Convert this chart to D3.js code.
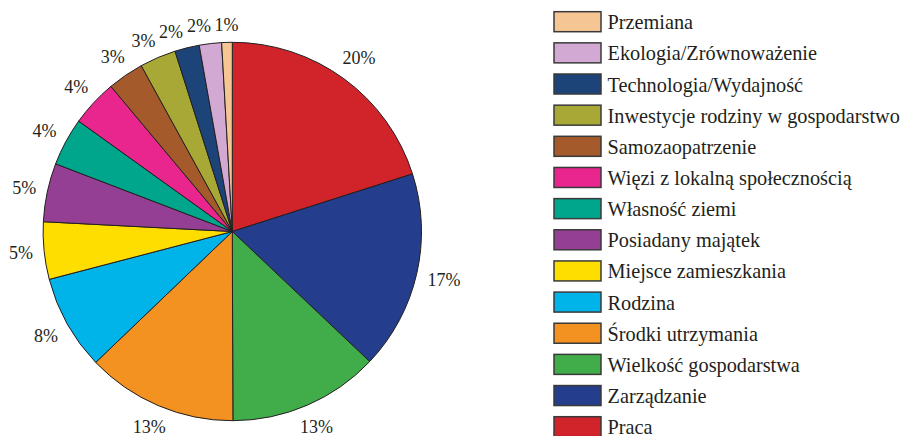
<!DOCTYPE html>
<html>
<head>
<meta charset="utf-8">
<script src="https://cdn.jsdelivr.net/npm/d3@7"></script>
<style>
  body { margin: 0; background: #fff; }
  text { font-family: "Liberation Serif", "Times New Roman", serif; fill: #231f20; }
</style>
</head>
<body>
<svg width="904" height="436"></svg>
<script>
// slices clockwise from 12 o'clock
var categories = ["Praca", "Zarządzanie", "Wielkość gospodarstwa", "Środki utrzymania", "Rodzina",
  "Miejsce zamieszkania", "Posiadany majątek", "Własność ziemi", "Więzi z lokalną społecznością",
  "Samozaopatrzenie", "Inwestycje rodziny w gospodarstwo", "Technologia/Wydajność",
  "Ekologia/Zrównoważenie", "Przemiana"];
var values = [20.1, 17.0, 12.9, 12.9, 8.1, 4.9, 5.0, 4.1, 4.0, 3.1, 3.1, 2.1, 1.9, 0.9];
var labels = ["20%", "17%", "13%", "13%", "8%", "5%", "5%", "4%", "4%", "3%", "3%", "2%", "2%", "1%"];
var colors = ["#d0232a", "#243d8c", "#40ad4a", "#f39220", "#00b4ea", "#fedd00", "#943f94",
  "#00a68c", "#e9258e", "#a55a2c", "#a8a837", "#1d4479", "#d2a9d2", "#f6c594"];

var svg = d3.select("svg");
var cx = 232.3, cy = 231.5, R = 189.2;

var data = categories.map(function(c, i) { return {name: c, value: values[i], label: labels[i], color: colors[i]}; });

var pie = d3.pie().sort(null).value(function(d) { return d.value; });
var arc = d3.arc().innerRadius(0).outerRadius(R);
var arcs = pie(data);

var g = svg.append("g").attr("transform", "translate(" + cx + "," + cy + ")");

g.selectAll("path")
  .data(arcs)
  .enter().append("path")
  .attr("d", arc)
  .attr("fill", function(d) { return d.data.color; })
  .attr("stroke", "#231f20")
  .attr("stroke-width", 1);

// percentage labels just outside the rim
var lab = g.selectAll(".lab")
  .data(arcs)
  .enter().append("text")
  .attr("class", "lab")
  .attr("font-size", "18px")
  .attr("text-anchor", "middle")
  .text(function(d) { return d.data.label; });

var h = 13, pad = 3.5;
var boxes = [];
lab.each(function(d, i) {
  boxes[i] = {w: this.getComputedTextLength(), a: (d.startAngle + d.endAngle) / 2};
});
function place(b) {
  var s = Math.sin(b.a), c = Math.cos(b.a);
  var r = R + 10.5 + Math.abs(s) * b.w / 2 + Math.abs(c) * h / 2;
  b.x = r * s;
  b.y = -r * c;
}
boxes.forEach(place);
function hits(p, q) {
  return Math.abs(p.x - q.x) < (p.w + q.w) / 2 + pad && Math.abs(p.y - q.y) < h + 2;
}
// push crowded labels near the top counterclockwise
for (var i = boxes.length - 2; i >= 0; i--) {
  var k = 0;
  while (hits(boxes[i], boxes[i + 1]) && k < 100) {
    boxes[i].a -= 0.005;
    place(boxes[i]);
    k++;
  }
}
lab.attr("x", function(d, i) { return boxes[i].x; })
  .attr("y", function(d, i) { return boxes[i].y + 6.3; });

// legend, reversed order
var legendY = d3.scalePoint()
  .domain(categories.slice().reverse())
  .range([21.7, 426.7]);

var lg = svg.append("g");
var row = lg.selectAll(".row")
  .data(data.slice().reverse())
  .enter().append("g")
  .attr("class", "row")
  .attr("transform", function(d) { return "translate(0," + legendY(d.name) + ")"; });

row.append("rect")
  .attr("x", 554)
  .attr("y", -10)
  .attr("width", 47)
  .attr("height", 20)
  .attr("fill", function(d) { return d.color; })
  .attr("stroke", "#3a3a3a")
  .attr("stroke-width", 1.5);

row.append("text")
  .attr("x", 607.5)
  .attr("y", 7.5)
  .attr("font-size", "20.3px")
  .text(function(d) { return d.name; });
</script>
</body>
</html>
